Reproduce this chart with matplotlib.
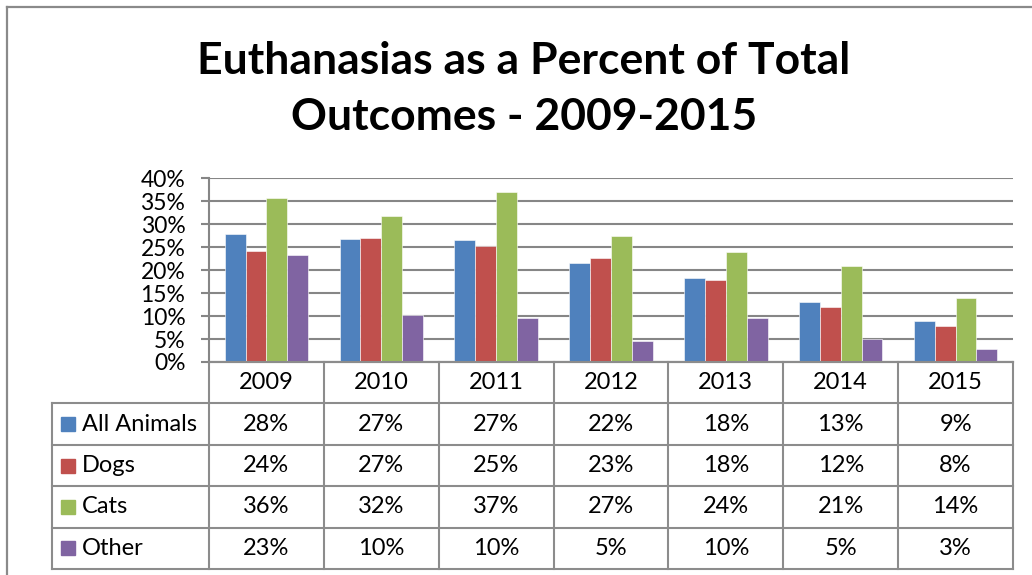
import matplotlib
matplotlib.use("Agg")
import matplotlib.pyplot as plt
from matplotlib.lines import Line2D
from matplotlib.patches import Rectangle

plt.rcParams['font.family'] = ['Lato', 'DejaVu Sans']

years = ["2009", "2010", "2011", "2012", "2013", "2014", "2015"]
series_names = ["All Animals", "Dogs", "Cats", "Other"]
all_animals = [27.9, 26.8, 26.6, 21.5, 18.2, 13.0, 9.0]
dogs = [24.2, 27.0, 25.2, 22.6, 17.8, 12.0, 7.9]
cats = [35.8, 31.7, 37.0, 27.4, 24.0, 20.9, 13.9]
other = [23.2, 10.2, 9.6, 4.6, 9.6, 5.0, 2.9]
yticks = [0, 5, 10, 15, 20, 25, 30, 35, 40]
colors = ["#4F81BD", "#C0504D", "#9BBB59", "#8064A2"]
title = "Euthanasias as a Percent of Total\nOutcomes - 2009-2015"

series = [all_animals, dogs, cats, other]

W, H = 1032, 575
fig = plt.figure(figsize=(W / 100, H / 100), dpi=100)
fig.patch.set_facecolor("white")

def fx(x):
    return x / W

def fy(y):
    return 1 - y / H

grid_c = "#868686"

# outer chart border (left and top only visible)
fig.add_artist(Line2D([fx(7), fx(7)], [fy(7), 0], transform=fig.transFigure, color="#8a8a8a", lw=1.6))
fig.add_artist(Line2D([fx(7), 1], [fy(7), fy(7)], transform=fig.transFigure, color="#8a8a8a", lw=1.6))

# title
fig.text(fx(524), fy(89), title, ha="center", va="center", fontsize=32, fontweight="bold",
         linespacing=1.5, color="black")

# plot area
x0, x1 = 209, 1013
y_top, y_bot = 178.3, 362
ax = fig.add_axes([fx(x0), fy(y_bot), fx(x1 - x0), (y_bot - y_top) / H])
n = len(years)
bw = 1 / 5.5
for i, (vals, c) in enumerate(zip(series, colors)):
    xs = [j - 2 * bw + bw / 2 + i * bw for j in range(n)]
    ax.bar(xs, vals, width=bw, color=c, edgecolor="white", linewidth=0.4, zorder=3)
ax.set_xlim(-0.5, n - 0.5)
ax.set_ylim(0, 40)
ax.set_yticks(yticks)
ax.set_yticklabels([f"{t}%" for t in yticks], fontsize=16.5)
ax.set_xticks([])
ax.yaxis.grid(True, color=grid_c, lw=1.5, zorder=0)
for s in ["top", "right"]:
    ax.spines[s].set_visible(False)
ax.spines["left"].set_color(grid_c)
ax.spines["left"].set_linewidth(1.5)
ax.spines["bottom"].set_color(grid_c)
ax.spines["bottom"].set_linewidth(1.5)
ax.tick_params(axis="y", length=6, width=1.5, color=grid_c, pad=11)

# data table
t_left, t_top, t_bot = 52, 362, 569
row_h = (t_bot - t_top) / 5
cat_px = (x1 - x0) / n
legend_w = (x0 - t_left) / cat_px  # in category units
tax = fig.add_axes([fx(t_left), fy(t_bot), fx(x1 - t_left), (t_bot - t_top) / H])
tax.set_xlim(-0.5 - legend_w, n - 0.5)
tax.set_ylim(5, 0)
tax.axis("off")
lc = "#8c8c8c"
lw = 1.5
L = -0.5 - legend_w
R = n - 0.5
# horizontal lines
tax.plot([-0.5, R], [0, 0], color=lc, lw=lw, clip_on=False)
for r in range(1, 6):
    tax.plot([L, R], [r, r], color=lc, lw=lw, clip_on=False)
# vertical lines
for j in range(n + 1):
    tax.plot([j - 0.5, j - 0.5], [0, 5], color=lc, lw=lw, clip_on=False)
tax.plot([L, L], [1, 5], color=lc, lw=lw, clip_on=False)

fs = 17
for j, yr in enumerate(years):
    tax.text(j, 0.5, yr, ha="center", va="center", fontsize=fs)
sq = 14 / cat_px
for i, (name, vals, c) in enumerate(zip(series_names, series, colors)):
    r = i + 1
    tax.add_patch(Rectangle((L + 9 / cat_px, r + 0.5 - 7 / row_h), sq, 14 / row_h,
                            color=c, clip_on=False))
    tax.text(L + 30 / cat_px, r + 0.5, name, ha="left", va="center", fontsize=fs)
    for j, v in enumerate(vals):
        tax.text(j, r + 0.5, f"{v:.0f}%", ha="center", va="center", fontsize=fs)

fig.savefig("out.png", dpi=100, facecolor="white")
